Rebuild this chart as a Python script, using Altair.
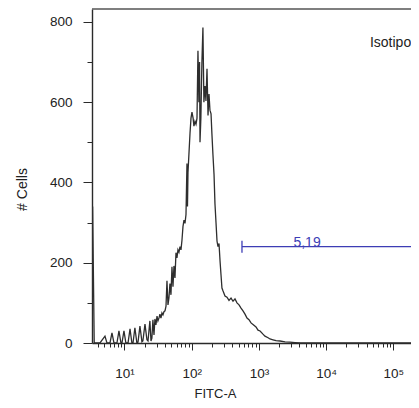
import altair as alt
import pandas as pd

# FITC-A intensity (x) and cell counts (y)
fitc = [3.30, 3.36, 3.55, 4.32, 5.13, 5.49, 6.09, 6.52, 6.98, 7.73,
        8.28, 8.87, 9.18, 9.83, 10.5, 11.3, 12.1, 12.9, 13.4, 14.3,
        15.3, 15.9, 17.0, 18.2, 18.8, 20.2, 21.6, 22.4, 23.9, 24.8,
        25.6, 26.5, 27.5, 28.4, 29.4, 30.5, 31.5, 32.6, 33.7, 34.9,
        36.1, 37.4, 38.7, 40.1, 41.5, 42.9, 44.4, 45.9, 47.5, 49.2,
        50.9, 52.7, 54.5, 56.4, 58.4, 60.4, 62.5, 64.7, 67.0, 69.3,
        71.7, 74.2, 76.8, 79.5, 82.3, 85.1, 86.6, 88.1, 94.4, 97.7,
        101, 105, 108, 112, 116, 120, 124, 128, 131, 133,
        137, 142, 147, 152, 158, 163, 169, 175, 181, 187,
        194, 200, 207, 215, 222, 230, 238, 246, 255, 264,
        273, 282, 292, 313, 335, 359, 385, 412, 441, 472,
        506, 542, 580, 621, 665, 712, 763, 817, 905, 970,
        1040, 1150, 1230, 1370, 1460, 1620, 1800, 2060, 2450, 2900,
        3440, 4090, 240000]
cells = [0, 340, 0, 0, 17, 0, 0, 25, 0, 0,
         30, 0, 0, 30, 0, 0, 35, 0, 0, 38,
         0, 2, 42, 3, 5, 47, 8, 5, 55, 5,
         12, 58, 20, 60, 45, 67, 55, 62, 72, 62,
         75, 70, 78, 80, 92, 155, 95, 112, 148, 120,
         190, 140, 192, 162, 225, 212, 232, 226, 240, 232,
         256, 290, 306, 298, 320, 447, 340, 425, 522, 560,
         575, 560, 540, 552, 545, 560, 728, 600, 700, 500,
         560, 700, 786, 600, 640, 603, 683, 567, 620, 580,
         571, 521, 470, 420, 347, 300, 254, 240, 248, 205,
         170, 137, 130, 117, 114, 106, 112, 104, 110, 100,
         95, 87, 80, 72, 62, 58, 50, 46, 40, 32,
         30, 22, 17, 13, 10, 8, 6, 5, 3, 2,
         1, 0, 0]

x_major = [10, 100, 1000, 10000, 100000]
x_minor = [4, 5, 6, 7, 8, 9,
           20, 30, 40, 50, 60, 70, 80, 90,
           200, 300, 400, 500, 600, 700, 800, 900,
           2000, 3000, 4000, 5000, 6000, 7000, 8000, 9000,
           20000, 30000, 40000, 50000, 60000, 70000, 80000, 90000,
           200000]
y_ticks = list(range(0, 801, 50))

gate_start = [560]
gate_end = [240000]
gate_level = [240]
gate_label = ["5,19"]
gate_label_x = [5200]
gate_label_y = [238]

sample_name = ["Isotipo"]
sample_x = [90800]
sample_y = [737]

W, H = 319, 334
x_dom = [3.29, 183000]
y_dom = [0, 832]

hist = pd.DataFrame({"fitc": fitc, "cells": cells})
hist["i"] = range(len(hist))

x_scale = alt.Scale(type="log", domain=x_dom, nice=False)
y_scale = alt.Scale(domain=y_dom, nice=False)

all_x_ticks = sorted(x_major + x_minor)
sup = "['\u00b9','\u00b2','\u00b3','\u2074','\u2075'][indexof([10,100,1000,10000,100000], datum.value)]"
x_axis = alt.Axis(
    values=all_x_ticks,
    labelExpr="indexof([10,100,1000,10000,100000], datum.value) >= 0 ? '10' + " + sup + " : ''",
    tickSize={"condition": {"test": "indexof([10,100,1000,10000,100000], datum.value) >= 0", "value": 7}, "value": 4},
    labelPadding=27, labelBaseline="alphabetic", labelFlush=False, labelOverlap=False,
    labelFont="Liberation Sans", labelFontSize=13.5, labelColor="#222",
    domainColor="#2a2a2a", domainWidth=1.3, tickColor="#2a2a2a", tickWidth=1,
    grid=False, title="FITC-A", titleFont="Liberation Sans", titleFontSize=13,
    titleFontWeight="normal", titleColor="#222", titleX=123, titleY=54,
    titleBaseline="alphabetic", titleAlign="center",
)
y_axis = alt.Axis(
    values=y_ticks,
    labelExpr="datum.value % 200 === 0 ? '' + datum.value : ''",
    tickSize={"condition": {"test": "datum.value % 200 === 0", "value": 9}, "value": 5},
    labelPadding=11, labelFlush=False, labelOverlap=False,
    labelFont="Liberation Sans", labelFontSize=13.5, labelColor="#222",
    domainColor="#2a2a2a", domainWidth=1.4, tickColor="#2a2a2a", tickWidth=1,
    grid=False, title="# Cells", titleFont="Liberation Sans", titleFontSize=14,
    titleFontWeight="normal", titleColor="#222", titleX=-66, titleY=180,
    titleAngle=270, titleBaseline="alphabetic", titleAlign="center",
)

line = alt.Chart(hist).mark_line(color="#2e2e2e", strokeWidth=1.3, clip=True).encode(
    x=alt.X("fitc:Q", scale=x_scale, axis=x_axis),
    y=alt.Y("cells:Q", scale=y_scale, axis=y_axis),
    order="i:Q",
)

gate_df = pd.DataFrame({"x": gate_start, "x2": gate_end, "y": gate_level,
                        "lab": gate_label, "lx": gate_label_x, "ly": gate_label_y})
gate_line = alt.Chart(gate_df).mark_rule(color="#3d3db5", strokeWidth=1.3, clip=True).encode(
    x="x:Q", x2="x2:Q", y="y:Q")
gate_cap = alt.Chart(gate_df).mark_rule(color="#3d3db5", strokeWidth=1.3).transform_calculate(
    yt="datum.y + 15", yb="datum.y - 15"
).encode(x="x:Q", y="yt:Q", y2="yb:Q")
gate_text = alt.Chart(gate_df).mark_text(
    color="#3d3db5", font="Liberation Sans", fontSize=14, align="center", baseline="alphabetic"
).encode(x="lx:Q", y="ly:Q", text="lab:N")

name_df = pd.DataFrame({"t": sample_name, "x": sample_x, "y": sample_y})
name_text = alt.Chart(name_df).mark_text(
    color="#222", font="Liberation Sans", fontSize=14, align="center", baseline="alphabetic"
).encode(x="x:Q", y="y:Q", text="t:N")

top_border = alt.Chart(gate_df).mark_rule(color="#555", strokeWidth=1.3).encode(
    x=alt.value(0), x2=alt.value(W), y=alt.value(0))

chart = alt.layer(line, gate_line, gate_cap, gate_text, name_text, top_border).properties(
    width=W, height=H,
    autosize=alt.AutoSizeParams(type="none"),
    padding={"left": 84, "top": 1, "right": 0, "bottom": 56},
    background="white",
).configure_view(strokeWidth=0)

chart.save("out.html", embed_options={"renderer": "svg", "actions": False})
